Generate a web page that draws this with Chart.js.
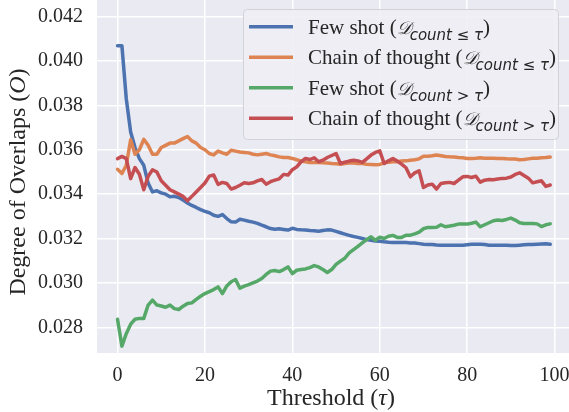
<!DOCTYPE html>
<html>
<head>
<meta charset="utf-8">
<script src="https://cdn.jsdelivr.net/npm/chart.js@4.4.0/dist/chart.umd.min.js"></script>
<style>
  html, body { margin: 0; padding: 0; background: #fff; }
  canvas { display: block; }
</style>
</head>
<body>
<canvas id="myChart" width="569" height="412"></canvas>
<script>
// threshold tau on the x axis
const thresholds = [
  0, 1, 2, 3, 4, 5, 6, 7, 8, 9, 10, 11, 12, 13, 14, 15, 16, 17, 18, 19,
  20, 21, 22, 23, 24, 25, 26, 27, 28, 29, 30, 31, 32, 33, 34, 35, 36, 37, 38, 39,
  40, 41, 42, 43, 44, 45, 46, 47, 48, 49, 50, 51, 52, 53, 54, 55, 56, 57, 58, 59,
  60, 61, 62, 63, 64, 65, 66, 67, 68, 69, 70, 71, 72, 73, 74, 75, 76, 77, 78, 79,
  80, 81, 82, 83, 84, 85, 86, 87, 88, 89, 90, 91, 92, 93, 94, 95, 96, 97, 98, 99
];

const fewShotLe = [
  0.04069, 0.04069, 0.0383, 0.0368, 0.0361, 0.0356, 0.0353, 0.0345, 0.0341, 0.03415,
  0.03406, 0.0340, 0.03388, 0.0339, 0.03385, 0.03373, 0.0336, 0.03349, 0.0334, 0.0333,
  0.03322, 0.03316, 0.03305, 0.0330, 0.03308, 0.0329, 0.03275, 0.03274, 0.03287, 0.03283,
  0.03278, 0.03274, 0.03268, 0.0326, 0.03253, 0.03245, 0.03242, 0.03244, 0.03241, 0.03238,
  0.03246, 0.03241, 0.03239, 0.03238, 0.03236, 0.03235, 0.03233, 0.03236, 0.03239, 0.03238,
  0.03232, 0.03226, 0.0322, 0.03214, 0.03209, 0.03205, 0.0320, 0.03195, 0.03192, 0.03189,
  0.03188, 0.03185, 0.03183, 0.03182, 0.03182, 0.03182, 0.03182, 0.0318, 0.0318, 0.03177,
  0.03174, 0.03173, 0.03173, 0.03171, 0.0317, 0.0317, 0.0317, 0.0317, 0.0317, 0.0317,
  0.03172, 0.03174, 0.03174, 0.03174, 0.03173, 0.0317, 0.0317, 0.0317, 0.0317, 0.0317,
  0.03168, 0.03168, 0.0317, 0.03172, 0.03173, 0.03173, 0.03174, 0.03175, 0.03176, 0.03174
];

const chainLe = [
  0.03512, 0.03493, 0.0353, 0.03645, 0.0358, 0.0360, 0.03647, 0.0362, 0.0358, 0.0358,
  0.0361, 0.0362, 0.0363, 0.0363, 0.0364, 0.0365, 0.0366, 0.0364, 0.0363, 0.0361,
  0.0360, 0.03583, 0.03577, 0.03594, 0.03586, 0.0358, 0.03598, 0.03594, 0.0359, 0.03588,
  0.03586, 0.0358, 0.03577, 0.0358, 0.03583, 0.03577, 0.03573, 0.03568, 0.03565, 0.03565,
  0.03561, 0.03555, 0.03549, 0.03546, 0.03543, 0.03543, 0.03543, 0.03541, 0.0354, 0.03538,
  0.03537, 0.03535, 0.03538, 0.0354, 0.0354, 0.03538, 0.03538, 0.03535, 0.03534, 0.03532,
  0.03534, 0.03541, 0.03544, 0.03546, 0.03546, 0.03549, 0.0355, 0.03553, 0.03555, 0.03559,
  0.03571, 0.03571, 0.03573, 0.03576, 0.03573, 0.0357, 0.03568, 0.03567, 0.03565, 0.03564,
  0.03561, 0.03561, 0.03562, 0.03564, 0.03562, 0.03562, 0.03562, 0.03561, 0.03561, 0.03559,
  0.03558, 0.03558, 0.03555, 0.03556, 0.03559, 0.03562, 0.03562, 0.03564, 0.03565, 0.03567
];

const fewShotGt = [
  0.02836, 0.02715, 0.02771, 0.02814, 0.02836, 0.0284, 0.0284, 0.0290, 0.02922, 0.0290,
  0.02896, 0.0289, 0.0290, 0.02884, 0.0288, 0.02895, 0.02907, 0.0291, 0.02926, 0.0294,
  0.02952, 0.02961, 0.0297, 0.02982, 0.02952, 0.02986, 0.03005, 0.03015, 0.02976, 0.02985,
  0.02992, 0.0300, 0.03008, 0.0302, 0.03038, 0.03053, 0.03056, 0.03051, 0.0306, 0.03072,
  0.03042, 0.03057, 0.0306, 0.03063, 0.03069, 0.03078, 0.03072, 0.0306, 0.03047, 0.0306,
  0.03083, 0.03098, 0.03111, 0.03135, 0.0315, 0.03165, 0.0318, 0.03195, 0.03208, 0.03192,
  0.03206, 0.0320, 0.0321, 0.03214, 0.03205, 0.03205, 0.03215, 0.03215, 0.03221, 0.03229,
  0.03244, 0.0325, 0.0325, 0.03251, 0.03262, 0.03253, 0.03256, 0.0326, 0.03265, 0.03265,
  0.03265, 0.03269, 0.03274, 0.03253, 0.03262, 0.03271, 0.0328, 0.03283, 0.03281, 0.03286,
  0.03292, 0.03283, 0.03271, 0.03268, 0.03268, 0.03268, 0.03266, 0.03254, 0.03262, 0.03266
];

const chainGt = [
  0.0356, 0.0357, 0.0356, 0.0347, 0.0352, 0.0349, 0.0342, 0.0348, 0.0351, 0.0350,
  0.0346, 0.0344, 0.0342, 0.0341, 0.0340, 0.0339, 0.0337, 0.0339, 0.0341, 0.0343,
  0.0345, 0.03481, 0.03486, 0.03444, 0.03453, 0.03448, 0.03423, 0.0343, 0.0344, 0.03451,
  0.03448, 0.03451, 0.0346, 0.03466, 0.03445, 0.03456, 0.03463, 0.03469, 0.03489, 0.03486,
  0.0351, 0.03523, 0.03546, 0.03561, 0.03556, 0.03564, 0.03546, 0.03553, 0.03565, 0.03574,
  0.03583, 0.03538, 0.03544, 0.03549, 0.03553, 0.0355, 0.03543, 0.03559, 0.03576, 0.03588,
  0.03595, 0.03538, 0.0355, 0.03561, 0.03549, 0.03535, 0.03519, 0.03478, 0.03496, 0.03505,
  0.0343, 0.03441, 0.03445, 0.03423, 0.03448, 0.03451, 0.03453, 0.03448, 0.03463, 0.03478,
  0.0348, 0.03475, 0.03481, 0.03454, 0.03463, 0.03466, 0.03465, 0.03468, 0.03471, 0.03472,
  0.03477, 0.03489, 0.03496, 0.03484, 0.03472, 0.03451, 0.03456, 0.0346, 0.03435, 0.03441
];

const xTicks = [0, 20, 40, 60, 80, 100];
const yTicks = [0.028, 0.030, 0.032, 0.034, 0.036, 0.038, 0.040, 0.042];

const seriesNames = ["Few shot", "Chain of thought", "Few shot", "Chain of thought"];
const seriesSubs = ["count \u2264 \u03c4", "count \u2264 \u03c4", "count > \u03c4", "count > \u03c4"];
const colors = ["#4C72B0", "#DD8452", "#55A868", "#C44E52"];

const TEXT = "#262626";
const SERIF = '"Liberation Serif", "Times New Roman", serif';

function points(values) {
  return thresholds.map((t, i) => ({ x: t, y: values[i] }));
}

// grey plot background (seaborn darkgrid look)
const background = {
  id: "background",
  beforeDraw(chart) {
    const { ctx, chartArea: a } = chart;
    ctx.save();
    ctx.fillStyle = "#EAEAF2";
    ctx.fillRect(a.left, a.top, a.right - a.left, a.bottom - a.top);
    ctx.restore();
  }
};

// draws text pieces one after another, returns end x
function drawPieces(ctx, pieces, x, y) {
  for (const p of pieces) {
    ctx.font = p.font;
    ctx.fillText(p.text, x, y + (p.dy || 0));
    x += ctx.measureText(p.text).width + (p.gap || 0);
  }
  return x;
}
function piecesWidth(ctx, pieces) {
  let w = 0;
  for (const p of pieces) { ctx.font = p.font; w += ctx.measureText(p.text).width + (p.gap || 0); }
  return w;
}

const overlay = {
  id: "overlay",
  afterDraw(chart) {
    const ctx = chart.ctx;
    ctx.save();
    ctx.fillStyle = TEXT;
    ctx.textBaseline = "alphabetic";
    ctx.textAlign = "left";

    // legend box
    ctx.beginPath();
    ctx.roundRect(243.5, 9.5, 315, 130, 4);
    ctx.fillStyle = "rgba(238,238,244,0.9)";
    ctx.fill();
    ctx.strokeStyle = "#D2D2D8";
    ctx.lineWidth = 1;
    ctx.stroke();

    for (let i = 0; i < 4; i++) {
      const y = 26.7 + i * 30.55;
      ctx.strokeStyle = colors[i];
      ctx.lineWidth = 3.5;
      ctx.beginPath();
      ctx.moveTo(249, y);
      ctx.lineTo(293, y);
      ctx.stroke();
      ctx.fillStyle = TEXT;
      drawPieces(ctx, [
        { text: seriesNames[i] + " (", font: "21px " + SERIF },
        { text: "\u{1D49F}", font: "italic 18px " + SERIF, gap: -1 },
        { text: seriesSubs[i], font: 'italic 15px "DejaVu Sans"', dy: 6 },
        { text: ")", font: "21px " + SERIF }
      ], 308, y + 7);
    }

    // x axis title
    const xt = [
      { text: "Threshold (", font: "24px " + SERIF },
      { text: "\u03c4", font: "italic 24px " + SERIF },
      { text: ")", font: "24px " + SERIF }
    ];
    drawPieces(ctx, xt, 331 - piecesWidth(ctx, xt) / 2, 405);

    // y axis title
    const yt = [
      { text: "Degree of Overlaps (", font: "24px " + SERIF },
      { text: "O", font: "italic 24px " + SERIF },
      { text: ")", font: "24px " + SERIF }
    ];
    ctx.translate(25, 182);
    ctx.rotate(-Math.PI / 2);
    drawPieces(ctx, yt, -piecesWidth(ctx, yt) / 2, 0);
    ctx.restore();
  }
};

const ctx = document.getElementById("myChart").getContext("2d");
const myChart = new Chart(ctx, {
  type: "line",
  data: {
    datasets: [
      { label: "Few shot (count <= tau)", data: points(fewShotLe), borderColor: colors[0], order: 4 },
      { label: "Chain of thought (count <= tau)", data: points(chainLe), borderColor: colors[1], order: 3 },
      { label: "Few shot (count > tau)", data: points(fewShotGt), borderColor: colors[2], order: 2 },
      { label: "Chain of thought (count > tau)", data: points(chainGt), borderColor: colors[3], order: 1 },
    ],
  },
  options: {
    responsive: false,
    animation: false,
    devicePixelRatio: 1,
    events: [],
    layout: { padding: 0 },
    elements: {
      line: { borderWidth: 3.5, tension: 0, fill: false, borderCapStyle: "round", borderJoinStyle: "round" },
      point: { radius: 0 },
    },
    plugins: {
      legend: { display: false },
      tooltip: { enabled: false },
    },
    scales: {
      x: {
        type: "linear",
        min: -4.7,
        max: 103.3,
        border: { display: false },
        grid: { color: "#FFFFFF", lineWidth: 1.5, drawTicks: false },
        ticks: {
          color: TEXT,
          font: { family: SERIF, size: 20 },
          padding: 11,
          maxRotation: 0,
          autoSkip: false,
          callback: (v) => String(v),
        },
        afterBuildTicks: (s) => { s.ticks = xTicks.map((v) => ({ value: v })); },
        afterFit: (s) => { s.height = 59; s.paddingLeft = 0; s.paddingRight = 0; },
      },
      y: {
        type: "linear",
        min: 0.02684,
        max: 0.04275,
        border: { display: false },
        grid: { color: "#FFFFFF", lineWidth: 1.5, drawTicks: false },
        ticks: {
          color: TEXT,
          font: { family: SERIF, size: 20 },
          padding: 14,
          autoSkip: false,
          callback: (v) => v.toFixed(3),
        },
        afterBuildTicks: (s) => { s.ticks = yTicks.map((v) => ({ value: v })); },
        afterFit: (s) => { s.width = 97; s.paddingTop = 0; s.paddingBottom = 0; },
      },
    },
  },
  plugins: [background, overlay],
});
</script>
</body>
</html>
